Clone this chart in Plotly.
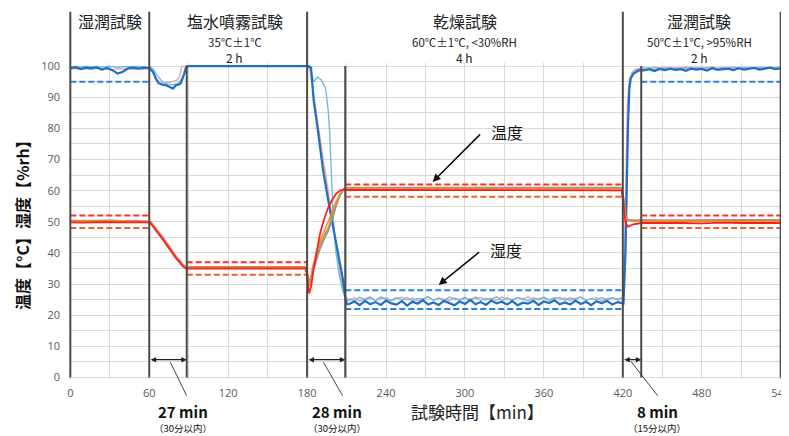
import plotly.graph_objects as go

# ---------------- data ----------------
# shared time grids (min)
t_wet1 = [0, 4, 8, 12, 16, 20, 24, 28, 32, 36, 40, 44, 48, 52, 56, 60]
t_dry = [212, 216, 220, 224, 228, 232, 236, 240, 244, 248, 252, 256, 260, 264, 268, 272, 276, 280,
         284, 288, 292, 296, 300, 304, 308, 312, 316, 320, 324, 328, 332, 336, 340, 344, 348, 352,
         356, 360, 364, 368, 372, 376, 380, 384, 388, 392, 396, 400, 404, 408, 412, 416, 420]
t_wet2 = [436, 440, 444, 448, 452, 456, 460, 464, 468, 472, 476, 480, 484, 488, 492, 496, 500, 504,
          508, 512, 516, 520, 524, 528, 532, 536, 540]

# humidity, dark blue sensor
hb_wet1 = [99.4, 99.6, 99.1, 99.5, 99.3, 99.6, 98.9, 99.4, 98.7, 97.6, 98.2, 99.3, 99.5, 99.2, 99.5, 99.3]
hb_mid_t = [61, 63, 65, 67, 70, 73, 76, 78, 80, 82, 84, 85, 86, 87, 88, 89, 130, 181, 183, 184,
            185, 188, 192, 196, 200, 204, 207, 209, 210]
hb_mid_v = [99, 98, 96, 94.5, 94, 93.8, 93.2, 92.8, 93.8, 94, 94.5, 95.5, 97, 98, 99.5, 100, 100, 100, 99.5, 93,
            89, 80, 67, 57, 48, 40, 32, 26, 23.5]
hb_dry = [23.6, 24.4, 23.2, 24.6, 23.5, 24.2, 23.3, 24.7, 23.8, 23.4,
          24.5, 23.1, 24.3, 23.7, 24.8, 23.4, 24.1, 23.3, 24.6, 23.9,
          23.2, 24.4, 23.6, 24.9, 23.5, 24.2, 23.3, 24.7, 23.8, 24.3,
          23.4, 24.5, 23.2, 24.0, 23.7, 24.6, 23.3, 24.4, 23.9, 24.8,
          23.5, 24.1, 23.4, 24.7, 23.6, 24.3, 23.2, 24.5, 23.8, 24.6,
          23.4, 24.2, 23.7]
hb_rise_t = [420.5, 422, 423, 424, 425, 426, 428, 430, 432]
hb_rise_v = [23.8, 40, 62, 82, 93, 96, 97.5, 98.2, 98.6]
hb_wet2 = [98.6, 99.0, 98.4, 99.1, 98.7, 99.2, 98.8, 99.0, 98.5, 99.2,
           98.9, 99.1, 98.6, 99.3, 98.8, 99.0, 99.2, 98.7, 99.3, 98.9,
           99.1, 99.4, 98.9, 99.2, 99.5, 99.0, 99.3]

# humidity, light blue sensor
hl_wet1 = [99.8, 99.9, 99.7, 99.9, 99.8, 99.9, 99.7, 99.9, 99.8, 99.6, 99.8, 99.9, 99.8, 99.9, 99.7, 99.8]
hl_mid_t = [61, 63, 66, 70, 74, 78, 82, 84, 86, 87, 88, 130, 181, 183, 185, 188, 191, 194, 196, 197,
            198, 199, 200, 202, 204, 207, 209, 211]
hl_mid_v = [99.8, 99, 97, 95, 94.2, 94, 94.5, 95.5, 97, 99, 100, 100, 100, 98, 95, 96.5, 95.5, 93, 86, 80,
            70, 58, 50, 40, 34, 28, 25.5, 25]
hl_dry = [25.2, 24.6, 25.8, 24.9, 25.5, 24.7, 25.9, 25.1, 24.8, 25.6,
          25.0, 25.7, 24.6, 25.4, 25.1, 25.9, 24.8, 25.3, 24.7, 25.8,
          25.2, 24.9, 25.6, 25.0, 25.8, 24.7, 25.4, 25.1, 25.9, 24.8,
          25.5, 24.9, 25.7, 25.2, 24.6, 25.6, 25.0, 25.8, 24.9, 25.3,
          25.7, 24.8, 25.5, 25.1, 25.9, 24.7, 25.4, 25.0, 25.7, 24.9,
          25.5, 25.2, 25.6]
hl_rise_t = [421, 422.5, 423.5, 424.5, 425.5, 427, 429, 432]
hl_rise_v = [30, 50, 75, 90, 95.5, 97.5, 98.5, 98.9]
hl_wet2 = [99.0, 99.4, 98.9, 99.3, 99.1, 99.5, 99.0, 99.3, 99.2, 99.5,
           99.1, 99.4, 99.0, 99.5, 99.2, 99.4, 99.1, 99.5, 99.3, 99.6,
           99.2, 99.5, 99.3, 99.6, 99.4, 99.5, 99.6]

# humidity, pink sensor
hp_wet1 = [99.0, 99.3, 98.8, 99.2, 99.0, 99.4, 98.9, 99.1, 98.8, 99.2, 99.0, 99.3, 98.9, 99.2, 99.0, 99.4]
hp_mid_t = [61, 63, 66, 70, 74, 78, 81, 83, 84, 85, 130, 181, 182, 184, 187, 190, 193, 196, 199, 202,
            205, 208, 210, 211]
hp_mid_v = [99.5, 98, 95.5, 94.5, 94.8, 95, 95.5, 96.5, 98.5, 100, 100, 100, 99, 94, 85, 76, 68, 60, 51, 42,
            34, 27, 24, 24.5]
hp_dry = [24.8, 25.6, 24.5, 25.3, 25.9, 24.7, 25.2, 25.7, 24.6, 25.4,
          25.8, 24.9, 25.5, 24.6, 25.2, 25.9, 24.8, 25.6, 25.1, 24.7,
          25.5, 25.0, 25.8, 24.6, 25.3, 25.7, 24.9, 25.4, 24.7, 25.8,
          25.1, 24.8, 25.6, 25.2, 25.9, 24.7, 25.3, 25.5, 24.8, 25.7,
          25.0, 25.6, 24.6, 25.4, 25.8, 24.9, 25.2, 25.7, 24.5, 25.3,
          25.6, 24.9, 25.4]
hp_rise_t = [420.5, 421.5, 422.5, 423.5, 425, 427, 430, 433]
hp_rise_v = [26, 45, 70, 88, 96, 98, 99, 99.3]
hp_wet2 = [99.5, 99.2, 99.7, 99.3, 99.6, 99.1, 99.5, 99.4, 99.7, 99.2,
           99.6, 99.3, 99.5, 99.7, 99.2, 99.6, 99.4, 99.7, 99.3, 99.5,
           99.6, 99.2, 99.7, 99.4, 99.6, 99.5, 99.7]

# temperature grids
tt_wet1 = [0, 10, 20, 30, 40, 50, 60]
tt_dry = [212, 225, 240, 255, 270, 285, 300, 315, 330, 345, 360, 375, 390, 405, 419]
tt_wet2 = [436, 450, 465, 480, 495, 510, 525, 540]
tt_fall = [420.5, 422, 423.5, 425, 428, 431, 434]

# temperature, red sensor
tr_wet1 = [49.8, 49.7, 49.9, 49.8, 49.7, 49.8, 49.8]
tr_mid_t = [61, 70, 80, 86, 88, 100, 120, 140, 160, 179, 180.5, 181.5, 183, 185, 188, 190, 193, 196, 199, 202,
            205, 208, 210]
tr_mid_v = [49.5, 44.5, 38.5, 35.5, 35, 35, 35, 35, 35, 35, 31, 27, 29, 35, 42, 46.5, 51, 54.5, 57, 59,
            60, 60.3, 60.2]
tr_dry = [60.2, 60.1, 60.2, 60.0, 60.1, 60.2, 60.1, 60.0, 60.2, 60.1, 60.1, 60.2, 60.0, 60.1, 60.1]
tr_fall = [56, 50, 48.5, 48.6, 49.2, 49.5, 49.6]
tr_wet2 = [49.6, 49.7, 49.6, 49.5, 49.7, 49.6, 49.7, 49.6]

# temperature, other sensors share transition times
to_mid_t = [61, 70, 80, 86, 88, 100, 120, 140, 160, 179, 180.5, 182, 184, 187, 190, 193, 196, 199, 202, 205,
            208, 211]
# orange
to_wet1 = [50.1, 50.2, 50.1, 50.0, 50.2, 50.1, 50.1]
to_mid_v = [49.8, 44.8, 38.8, 35.8, 35.3, 35.3, 35.4, 35.3, 35.3, 35.3, 32, 29.5, 35, 40, 44, 47, 49.5, 53, 56.5, 59,
            60.4, 60.7]
to_dry = [60.6, 60.5, 60.7, 60.6, 60.5, 60.6, 60.7, 60.5, 60.6, 60.6, 60.7, 60.5, 60.6, 60.6, 60.6]
to_fall = [57, 51.5, 50.3, 50.2, 50.2, 50.3, 50.2]
to_wet2 = [50.2, 50.1, 50.2, 50.3, 50.2, 50.1, 50.2, 50.2]
# olive
tg_wet1 = [50.3, 50.2, 50.3, 50.3, 50.2, 50.3, 50.2]
tg_mid_v = [50, 45, 39, 36, 35.4, 35.4, 35.4, 35.4, 35.4, 35.4, 32.5, 30, 34, 38.5, 42.5, 45.5, 48, 51.5, 55.5, 58.5,
            60.5, 60.9]
tg_dry = [60.8, 60.9, 60.8, 60.7, 60.9, 60.8, 60.8, 60.9, 60.7, 60.8, 60.9, 60.8, 60.8, 60.7, 60.8]
tg_fall = [57.5, 52, 50.6, 50.4, 50.4, 50.5, 50.4]
tg_wet2 = [50.4, 50.3, 50.4, 50.4, 50.3, 50.4, 50.5, 50.4]
# purple-grey
tp_wet1 = [50.4, 50.3, 50.4, 50.5, 50.3, 50.4, 50.3]
tp_mid_v = [50.1, 45.2, 39.2, 36.1, 35.5, 35.5, 35.5, 35.5, 35.5, 35.5, 33, 30.5, 33.5, 37.5, 41.5, 44.5, 47, 50.5, 55, 58.5,
            60.6, 61.0]
tp_dry = [61.0, 61.1, 61.0, 61.0, 61.1, 60.9, 61.0, 61.1, 61.0, 61.0, 61.1, 61.0, 60.9, 61.0, 61.0]
tp_fall = [58, 52.5, 50.8, 50.6, 50.5, 50.6, 50.5]
tp_wet2 = [50.6, 50.5, 50.6, 50.5, 50.6, 50.6, 50.5, 50.6]

# tolerance bands
lim_start = [0, 88.5, 209, 434]
lim_end = [60, 180, 420, 540]
temp_hi = [52, 37, 62, 52]
temp_lo = [48, 33, 58, 48]
hum_start = [0, 209, 209, 434]
hum_end = [60, 420, 420, 540]
hum_lim = [95, 28, 22, 95]

# phase boundaries
phase_major = [0, 60, 180, 420, 540]
phase_minor = [88.5, 209, 434]

x_ticks = [0, 60, 120, 180, 240, 300, 360, 420, 480, 540]
y_ticks = [0, 10, 20, 30, 40, 50, 60, 70, 80, 90, 100]

headers = [
    (30, "湿潤試験", "", ""),
    (125, "塩水噴霧試験", "35℃±1℃", "2 h"),
    (300, "乾燥試験", "60℃±1℃, <30%RH", "4 h"),
    (478, "湿潤試験", "50℃±1℃, >95%RH", "2 h"),
]
durations = [(60, 88.5, 85.4, "27 min", "（30分以内）", 88.4, -17, -35),
             (180, 209, 203, "28 min", "（30分以内）", 207, -20, -35),
             (420, 434, 446, "8 min", "（15分以内）", 446.5, -28, -36)]

# ---------------- figure ----------------
FONT = "Noto Sans CJK JP, Noto Sans, sans-serif"
fig = go.Figure()


def add_line(t, v, color, width):
    fig.add_trace(go.Scatter(x=t, y=v, mode="lines", line=dict(color=color, width=width),
                             showlegend=False, hoverinfo="skip"))


# humidity
add_line(t_wet1 + hp_mid_t + t_dry + hp_rise_t + t_wet2, hp_wet1 + hp_mid_v + hp_dry + hp_rise_v + hp_wet2,
         "#EBA3A3", 1.4)
add_line(t_wet1 + hl_mid_t + t_dry + hl_rise_t + t_wet2, hl_wet1 + hl_mid_v + hl_dry + hl_rise_v + hl_wet2,
         "#6DBCE3", 1.4)
add_line(t_wet1 + hb_mid_t + t_dry + hb_rise_t + t_wet2, hb_wet1 + hb_mid_v + hb_dry + hb_rise_v + hb_wet2,
         "#1F6FC4", 2.2)

# temperature
add_line(tt_wet1 + to_mid_t + tt_dry + tt_fall + tt_wet2, tp_wet1 + tp_mid_v + tp_dry + tp_fall + tp_wet2,
         "#9A88B8", 1.6)
add_line(tt_wet1 + to_mid_t + tt_dry + tt_fall + tt_wet2, tg_wet1 + tg_mid_v + tg_dry + tg_fall + tg_wet2,
         "#A3A33A", 1.6)
add_line(tt_wet1 + to_mid_t + tt_dry + tt_fall + tt_wet2, to_wet1 + to_mid_v + to_dry + to_fall + to_wet2,
         "#F08A3C", 1.6)
add_line(tt_wet1 + tr_mid_t + tt_dry + tt_fall + tt_wet2, tr_wet1 + tr_mid_v + tr_dry + tr_fall + tr_wet2,
         "#FF1E1E", 1.8)


def add_limits(starts, ends, vals, color):
    xs, ys = [], []
    for s, e, v in zip(starts, ends, vals):
        xs += [s, e, None]
        ys += [v, v, None]
    fig.add_trace(go.Scatter(x=xs, y=ys, mode="lines", line=dict(color=color, width=2, dash="6px,3px"),
                             showlegend=False, hoverinfo="skip"))


add_limits(lim_start, lim_end, temp_hi, "#FF2D2D")
add_limits(lim_start, lim_end, temp_lo, "#F0602E")
add_limits(hum_start, hum_end, hum_lim, "#2A84D8")

# phase boundary lines
for xv in phase_major:
    fig.add_shape(type="line", xref="x", yref="paper", x0=xv, x1=xv, y0=0.005, y1=1.162,
                  line=dict(color="#4A4A4A", width=2), layer="above")
for xv in phase_minor:
    fig.add_shape(type="line", xref="x", yref="y", x0=xv, x1=xv, y0=0, y1=100,
                  line=dict(color="#4A4A4A", width=2), layer="above")

ann = []
for xc, title, cond, dur in headers:
    ann.append(dict(x=xc, y=1.132, xref="x", yref="paper", text=title, showarrow=False,
                    font=dict(family=FONT, size=16, color="#222222"), yanchor="middle"))
    if cond:
        ann.append(dict(x=xc, y=1.068, xref="x", yref="paper", text=cond, showarrow=False,
                        font=dict(family=FONT, size=11.5, color="#222222"), yanchor="middle"))
    if dur:
        ann.append(dict(x=xc, y=1.016, xref="x", yref="paper", text=dur, showarrow=False,
                        font=dict(family=FONT, size=12, color="#222222"), yanchor="middle"))

for x0, x1, xt, lab, sub, xb, dax, day in durations:
    ann.append(dict(x=x1, y=5.7, xref="x", yref="y", ax=x0, ay=5.7, axref="x", ayref="y", text="",
                    showarrow=True, arrowhead=2, arrowside="end+start", arrowsize=0.9, arrowwidth=1.2,
                    arrowcolor="#222222"))
    ann.append(dict(x=xb, y=-0.053, xref="x", yref="paper", ax=dax, ay=day, text="", showarrow=True,
                    arrowhead=0, arrowwidth=1, arrowcolor="#444444"))
    ann.append(dict(x=xt, y=-0.104, xref="x", yref="paper", text="<b>" + lab + "</b>", showarrow=False,
                    font=dict(family=FONT, size=15, color="#111111"), yanchor="middle"))
    ann.append(dict(x=xt, y=-0.156, xref="x", yref="paper", text=sub, showarrow=False,
                    font=dict(family=FONT, size=9.5, color="#111111"), yanchor="middle"))

# 温度 / 湿度 pointer arrows
ann.append(dict(x=275.4, y=62.8, xref="x", yref="y", ax=49, ay=-49, text="", showarrow=True,
                arrowhead=2, arrowsize=1, arrowwidth=1.6, arrowcolor="#111111"))
ann.append(dict(x=332, y=78.8, xref="x", yref="y", text="温度", showarrow=False,
                font=dict(family=FONT, size=16, color="#111111")))
ann.append(dict(x=280, y=29.7, xref="x", yref="y", ax=42, ay=-34, text="", showarrow=True,
                arrowhead=2, arrowsize=1, arrowwidth=1.6, arrowcolor="#111111"))
ann.append(dict(x=331.5, y=40.8, xref="x", yref="y", text="湿度", showarrow=False,
                font=dict(family=FONT, size=16, color="#111111")))

# axis titles
ann.append(dict(x=0.573, y=-0.103, xref="paper", yref="paper", text="試験時間【min】", showarrow=False,
                font=dict(family=FONT, size=17, color="#222222"), yanchor="middle"))
ann.append(dict(x=-0.066, y=0.5, xref="paper", yref="paper", text="<b>温度【°C】湿度【%rh】</b>",
                showarrow=False, textangle=-90, font=dict(family=FONT, size=16, color="#111111"),
                xanchor="center", yanchor="middle"))

# the page body adds an 8 px offset, so the figure is 8 px smaller and margins shifted by 8 px
fig.update_layout(
    width=781, height=428,
    margin=dict(l=61, r=7, t=55, b=57, autoexpand=False),
    paper_bgcolor="white", plot_bgcolor="white",
    font=dict(family=FONT),
    annotations=ann,
    xaxis=dict(range=[-1, 541], tickvals=x_ticks, ticktext=[str(v) for v in x_ticks],
               showgrid=True, gridcolor="#D9D9D9", gridwidth=1, zeroline=False,
               minor=dict(dtick=30, tick0=0, showgrid=True, gridcolor="#D9D9D9", gridwidth=1),
               tickfont=dict(family="Open Sans, sans-serif", size=11, color="#595959"),
               ticks="", showline=False, ticklabelstandoff=6, ticklabeloverflow="allow",
               automargin=False),
    yaxis=dict(range=[-0.5, 101], tickvals=y_ticks, ticktext=[str(v) for v in y_ticks],
               showgrid=True, gridcolor="#D9D9D9", gridwidth=1, zeroline=False,
               minor=dict(dtick=5, tick0=0, showgrid=True, gridcolor="#D9D9D9", gridwidth=1),
               tickfont=dict(family="Open Sans, sans-serif", size=11, color="#595959"),
               ticks="", showline=False, ticklabelstandoff=8, automargin=False),
)

fig.write_html("out.html")
